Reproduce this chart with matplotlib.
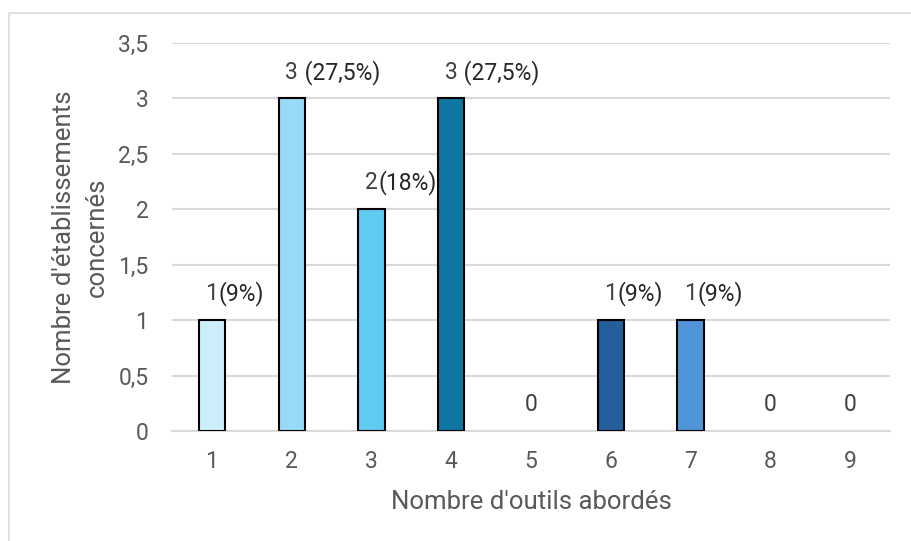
import numpy as np
import matplotlib.pyplot as plt
from matplotlib.patches import Rectangle

plt.rcParams['font.family'] = ['Roboto', 'DejaVu Sans']

# nombre d'outils abordés
outils = [1, 2, 3, 4, 5, 6, 7, 8, 9]
etablissements = [1, 3, 2, 3, 0, 1, 1, 0, 0]
pourcentages = ['(9%)', ' (27,5%)', '(18%)', ' (27,5%)', '', '(9%)', '(9%)', '', '']
couleurs = ['#CDEEFB', '#97DBF7', '#5FCAF2', '#0E76A0', '#5FCAF2',
            '#235F9A', '#5095DA', '#CDEEFB', '#CDEEFB']

fig = plt.figure(figsize=(9.11, 5.41), dpi=100)
ax = fig.add_axes([0.1888, 0.2033, 0.977 - 0.1888, 0.9205 - 0.2033])

# cadre du graphique
fig.patches.append(Rectangle((9 / 911, -0.1), 1.2, 0.976 + 0.1, transform=fig.transFigure,
                             fill=False, edgecolor='#D9D9D9', linewidth=1.2))

# pas de contour pour les barres à zéro
bords = [1.5 if v > 0 else 0 for v in etablissements]
ax.bar(outils, etablissements, width=0.33, color=couleurs, edgecolor='black',
       linewidth=bords, zorder=3)

for x, v, p in zip(outils, etablissements, pourcentages):
    ax.annotate(str(v), (x, v), xytext=(0, 19), textcoords='offset points',
                ha='center', va='center', fontsize=16.5, color='#404040')
    if p:
        ax.annotate(p, (x, v), xytext=(5, 19), textcoords='offset points',
                    ha='left', va='center', fontsize=16.5, color='#262626')

ax.set_xlim(0.5, 9.5)
ax.set_ylim(0, 3.5)
ax.set_xticks(outils)
ax.set_yticks(np.arange(0, 3.51, 0.5))
ax.set_yticklabels(['0', '0,5', '1', '1,5', '2', '2,5', '3', '3,5'])
ax.tick_params(length=0, labelsize=16.5, labelcolor='#595959')
ax.tick_params(axis='y', pad=17)
ax.tick_params(axis='x', pad=14)

ax.grid(axis='y', color='#D9D9D9', linewidth=1.5, zorder=0)
for s in ['top', 'right', 'left']:
    ax.spines[s].set_visible(False)
ax.spines['bottom'].set_color('#D9D9D9')
ax.spines['bottom'].set_linewidth(1.5)

ax.set_xlabel("Nombre d'outils abordés", fontsize=18.5, color='#595959', labelpad=12)
ax.set_ylabel("Nombre d'établissements\nconcernés", fontsize=18.5, color='#595959',
              labelpad=7, linespacing=1.45)

fig.savefig('out.png', dpi=100)
